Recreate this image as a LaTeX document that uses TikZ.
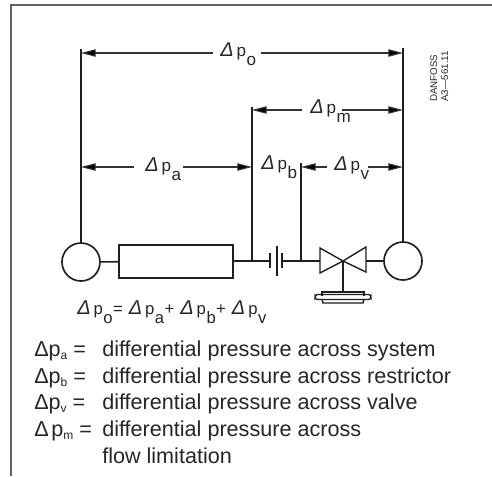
\documentclass[tikz,border=0pt]{standalone}
\usepackage{fontspec}
\setmainfont{Liberation Sans}
\usetikzlibrary{arrows.meta}
\newcommand\DP[1]{{\fontsize{15pt}{16pt}\selectfont\itshape Δ}\kern2.2pt p\kern.4pt\raisebox{-7pt}{#1}}
\tikzset{
  every picture/.style={x=.75pt,y=-.75pt},
  ink/.style={draw=black!88,line width=1.25pt},
  frameline/.style={draw=black!62,line width=1.1pt},
  dim/.style={draw=black!80,line width=.85pt,-{Triangle[length=11pt,width=5.5pt,fill=black]}},
  lbl/.style={inner sep=0pt,anchor=base west,font=\fontsize{12.8pt}{15pt}\selectfont,text=black!85},
  eqn/.style={inner sep=0pt,anchor=base west,font=\fontsize{12.5pt}{14pt}\selectfont,text=black!85},
  pump/.style={circle,ink,fill=white,minimum size=28.5pt,inner sep=0pt},
  pipe/.style={rectangle,ink,fill=white,minimum width=85.5pt,minimum height=24.5pt,inner sep=0pt},
  key/.style={inner sep=0pt,anchor=base west,font=\fontsize{16.2pt}{18pt}\selectfont,text=black!85},
  sm/.style={font=\fontsize{7.3pt}{8pt}\selectfont,inner sep=0pt,anchor=base west,rotate=90,text=black!85},
}
\newcommand\SB[1]{\raisebox{-2.5pt}{\fontsize{9pt}{10pt}\selectfont #1}}
\begin{document}
\begin{tikzpicture}
\useasboundingbox (0,0) rectangle (492,476);
\draw[frameline] (11,476) -- (11,5) -- (492,5);

% pumps and system
\node[pump] (lp) at (81,262) {};
\node[pump] (rp) at (403,261) {};
\node[pipe] (sys) at (176,261.5) {};
\coordinate (r1) at (270,261);
\coordinate (r3) at (282,261);
\coordinate (vl) at (320,261);
\coordinate (vr) at (366,261);
\coordinate (vc) at (343,261);
\coordinate (j1) at (252,261);
\coordinate (j2) at (301,261);
\coordinate (act) at (343,292);

\draw[ink] (lp) -- (sys);
\draw[ink] (sys.east |- r1) -- (r1);
\draw[ink] (r3) -- (vl);
\draw[ink] (vr) -- (rp);
\draw[ink] (270,253) -- (270,268);
\draw[ink] (277,246) -- (277,276);
\draw[ink] (282,253) -- (282,268);

% valve
\draw[ink,line width=1.05pt,line join=miter] (vc) -- (320,248) -- (320,273) -- cycle;
\draw[ink,line width=1.05pt,line join=miter] (vc) -- (366,247) -- (366,272) -- cycle;
\draw[ink] (vc) -- (act);
\draw[ink,line width=1.05pt] (322,296) -- (322,292) -- (364,292) -- (364,296);
\draw[ink,line width=1.05pt] (322,299) -- (323,303) -- (363,303) -- (364,299);
\draw[ink,line width=1.05pt,rounded corners=2pt] (315,294.5) rectangle (371,299.5);

% verticals
\coordinate (ta) at (81,49);
\coordinate (tb) at (403,48);
\coordinate (tc) at (252,107);
\coordinate (td) at (301,163);
\draw[ink] (ta) -- (lp.north);
\draw[ink] (tb) -- (rp.north);
\draw[ink] (tc) -- (j1);
\draw[ink] (td) -- (j2);

% dimension rows
\coordinate (oL) at (81,53);   \coordinate (oR) at (403,53);
\coordinate (oa) at (213,53);  \coordinate (ob) at (261,53);
\coordinate (mL) at (252,110); \coordinate (mR) at (403,110);
\coordinate (ma) at (302,110); \coordinate (mb) at (342,110);
\coordinate (aL) at (81,167);  \coordinate (aR) at (252,167);
\coordinate (aa) at (134,167); \coordinate (ab) at (183,167);
\coordinate (vL) at (301,167); \coordinate (vR) at (403,167);
\coordinate (va) at (327,167); \coordinate (vb) at (368,167);
\draw[dim] (oa) -- (oL); \draw[dim] (ob) -- (oR);
\draw[dim] (ma) -- (mL); \draw[dim] (mb) -- (mR);
\draw[dim] (aa) -- (aL); \draw[dim] (ab) -- (aR);
\draw[dim] (va) -- (vL); \draw[dim] (vb) -- (vR);

\node[lbl] (lo) at (220,56) {\DP{o}};
\node[lbl] (lm) at (310,113) {\DP{m}};
\node[lbl] (la) at (145,171) {\DP{a}};
\node[lbl] (lb) at (261,169) {\DP{b}};
\node[lbl] (lv) at (334,170) {\DP{v}};
\node[eqn] (eq) at (77,314) {\DP{o}\kern.3pt=\kern4.5pt\DP{a}\kern.3pt+\kern4.5pt\DP{b}\kern.3pt+\kern4.5pt\DP{v}};

\node[sm] (d1) at (437,102) {DANFOSS};
\node[sm] (d2) at (448,102) {A3—561.11};

% legend
\node[key] (k1) at (34,356.5) {Δp\SB{a} =};
\node[key] (k2) at (34,383) {Δp\SB{b} =};
\node[key] (k3) at (34,409.5) {Δp\SB{v} =};
\node[key] (k4) at (34,436) {Δ\kern2pt p\SB{m} =};
\node[key] (t1) at (102,356.5) {differential pressure across system};
\node[key] (t2) at (102,383) {differential pressure across restrictor};
\node[key] (t3) at (102,409.5) {differential pressure across valve};
\node[key] (t4) at (102,436) {differential pressure across};
\node[key] (t5) at (102,463) {flow limitation};
\end{tikzpicture}
\end{document}
